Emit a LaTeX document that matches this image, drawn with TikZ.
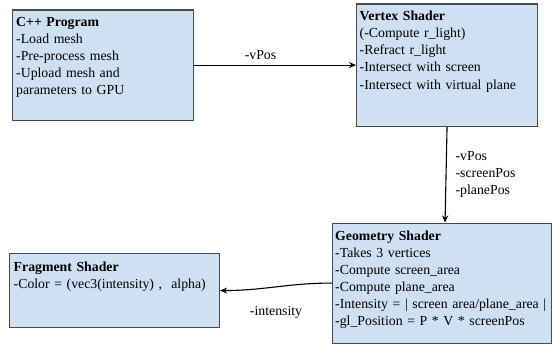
\documentclass[tikz,border=0pt]{standalone}
\usepackage{fontspec}
\setmainfont{Liberation Serif}
\usetikzlibrary{arrows.meta, calc}
\definecolor{shaderblue}{RGB}{206,225,242}
\definecolor{boxedge}  {RGB}{ 70, 76, 86}
\tikzset{
  stage box/.style  = {draw=boxedge, fill=shaderblue, line width=1.1pt,
                       anchor=north west, inner sep=0pt},
  stage text/.style = {anchor=base west, inner sep=0pt, text width=#1,
                       align=left, font=\fontsize{13.8}{17}\selectfont},
  flow/.style       = {-{Stealth[length=7pt, width=6pt]}, line width=1.1pt},
  flow label/.style = {align=left, inner sep=0pt,
                       font=\fontsize{13.8}{17}\selectfont},
}

\begin{document}
\begin{tikzpicture}[x=1pt, y=1pt]

  \useasboundingbox (0,0) rectangle (553,-345);

  % -- stage boxes (drawn first, text on top) ---------------------------
  \node[stage box, minimum width=181pt, minimum height=110pt]
    (cpp) at (12,-9.5) {};
  \node[stage box, minimum width=181pt, minimum height=122pt]
    (vertex) at (356,-3.5) {};
  \node[stage box, minimum width=219pt, minimum height=120pt]
    (geometry) at (332,-222.5) {};
  \node[stage box, minimum width=210pt, minimum height=74pt]
    (fragment) at (9,-253) {};

  % -- box contents -------------------------------------------------------
  \node[stage text=175pt] (cpptext) at ($(cpp.north west)+(4,-17.5)$)
    {\textbf{C++ Program}\\
     -Load mesh\\
     -Pre-process mesh\\
     -Upload mesh and\\
     parameters to GPU};

  \node[stage text=176pt] (vertextext) at ($(vertex.north west)+(3.5,-17.5)$)
    {\textbf{Vertex Shader}\\
     (-Compute r\_light)\\
     -Refract r\_light\\
     -Intersect with screen\\
     -Intersect with virtual plane};

  \node[stage text=216pt] (geometrytext) at ($(geometry.north west)+(3,-17.5)$)
    {\textbf{Geometry Shader}\\
     -Takes 3 vertices\\
     -Compute screen\_area\\
     -Compute plane\_area\\
     -Intensity = | screen area/plane\_area |\\
     -gl\_Position = P * V * screenPos};

  \node[stage text=204pt] (fragmenttext) at ($(fragment.north west)+(4.5,-18)$)
    {\textbf{Fragment Shader}\\
     -Color = (vec3(intensity) ,~ alpha)};

  % -- data flow between stages ------------------------------------------
  \draw[flow] (cpp.east) -- (vertex.west)
    node[flow label, pos=0.41, above=5pt] (vposlabel) {-vPos};

  \draw[flow] (vertex.south) -- ([xshift=3pt]geometry.north)
    node[flow label, midway, right=9pt] (vertexout)
      {-vPos\\-screenPos\\-planePos};

  \draw[flow] (geometry.west) to[out=180, in=0]
    node[flow label, midway, yshift=-26pt] (intensitylabel) {-intensity}
    (fragment.east);

\end{tikzpicture}
\end{document}
